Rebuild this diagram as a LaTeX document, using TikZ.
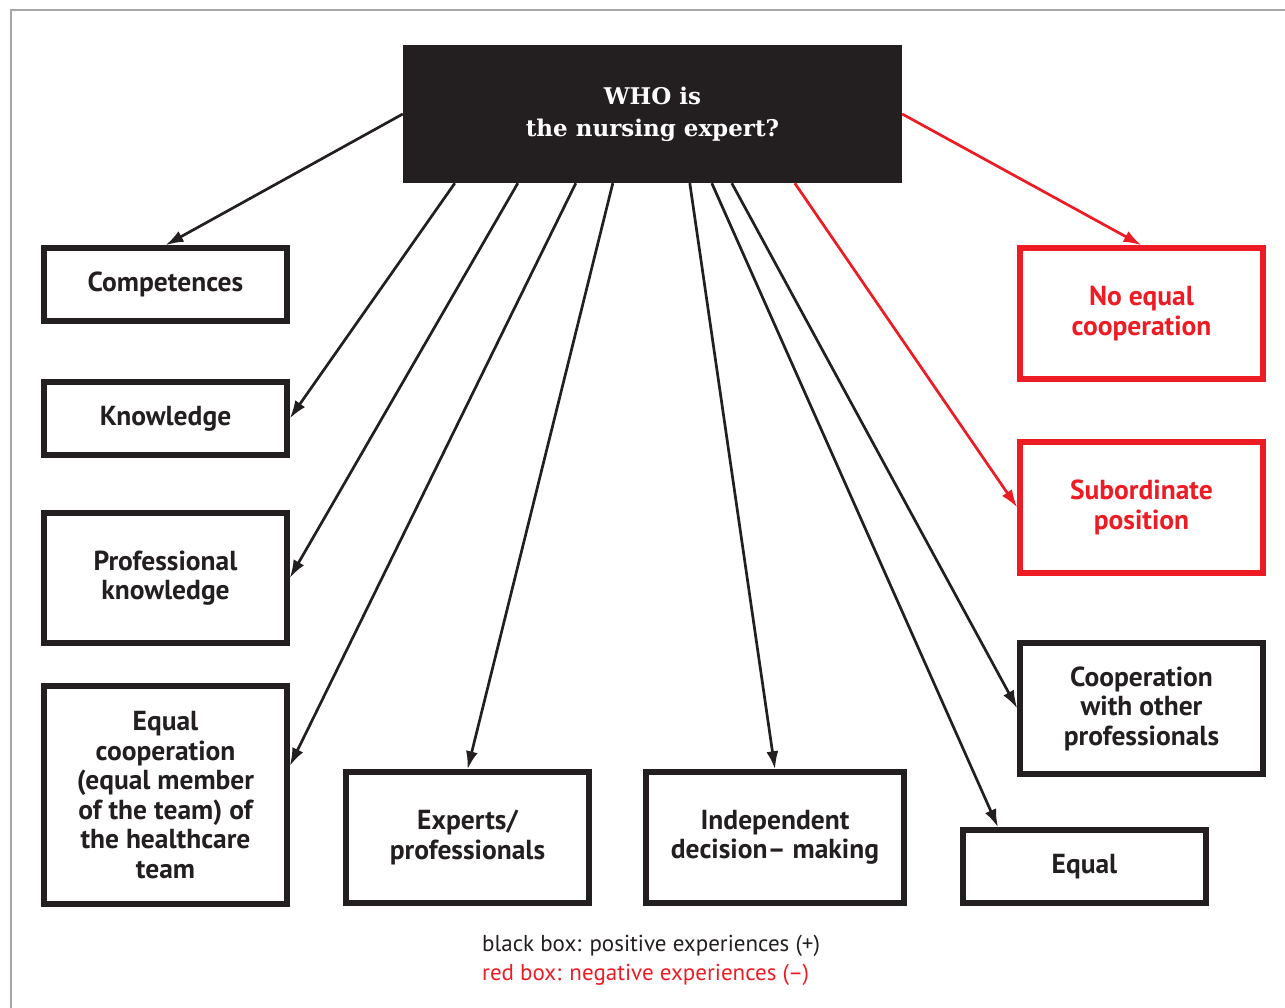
\documentclass[tikz,border=0pt]{standalone}
\usepackage{fontspec}
\setmainfont{PT Sans}
\newfontfamily\slabfont{DejaVu Serif}
\usetikzlibrary{arrows.meta}
\definecolor{boxblack}{HTML}{231F20}
\definecolor{boxred}{HTML}{ED1C24}

\begin{document}
\begin{tikzpicture}[x=1pt,y=-1pt,
  box/.style={draw=boxblack,line width=5.5pt,inner sep=0pt,outer sep=2.75pt,
    minimum width=243pt,align=center,text=boxblack,
    font=\fontsize{27.5}{29.5}\selectfont\bfseries},
  redbox/.style={box,draw=boxred,text=boxred},
  arr/.style={-{Latex[length=18pt,width=12pt]},line width=2.7pt,draw=boxblack},
  redarr/.style={arr,draw=boxred}]
\useasboundingbox (0,0) rectangle (1285,1008);
\draw[gray!70,line width=1.2pt] (11,1008)--(11,10)--(1285,10);
% question box
\node[fill=boxblack,text=white,inner sep=0pt,minimum width=499pt,minimum height=138pt,
  align=center,font=\slabfont\fontsize{23}{32}\selectfont\bfseries] (who) at (652.5,114)
  {\raisebox{-2pt}{WHO is}\\\raisebox{-2pt}{the nursing expert?}};
% left column
\node[box,minimum height=73pt] (comp) at (165.5,284.5) {Competences};
\node[box,minimum height=73pt] (know) at (165.5,418.5) {Knowledge};
\node[box,minimum height=130pt] (prof) at (165.5,578) {Professional\\knowledge};
\node[box,minimum height=218pt] (eqco) at (165.5,795)
  {Equal\\cooperation\\(equal member\\of the team) of\\the healthcare\\team};
% bottom row
\node[box,minimum height=131pt] (expt) at (467.5,837.5) {Experts/\\professionals};
\node[box,minimum width=258pt,minimum height=131pt] (indep) at (775,837.5)
  {Independent\\decision-- making};
\node[box,minimum height=73pt] (equal) at (1084.5,866.5) {Equal};
% right column
\node[redbox,minimum height=131pt] (noeq) at (1141.5,313.5) {No equal\\cooperation};
\node[redbox,minimum height=131pt] (subo) at (1141.5,507.5) {Subordinate\\position};
\node[box,minimum height=131pt] (coop) at (1141.5,708.5)
  {Cooperation\\with other\\professionals};
% arrows
\draw[arr] (who.west) -- (comp.north);
\draw[arr] ([xshift=52pt]who.south west) -- (know.east);
\draw[arr] ([xshift=115pt]who.south west) -- (prof.east);
\draw[arr] ([xshift=173pt]who.south west) -- ([yshift=29pt]eqco.east);
\draw[arr] ([xshift=210pt]who.south west) -- (expt.north);
\draw[arr] ([xshift=287pt]who.south west) -- (indep.north);
\draw[arr] ([xshift=309pt]who.south west) -- ([xshift=-86.5pt]equal.north);
\draw[arr] ([xshift=329pt]who.south west) -- (coop.west);
\draw[redarr] ([xshift=392pt]who.south west) -- (subo.west);
\draw[redarr] (who.east) -- (noeq.north);
% legend
\node[anchor=north west,align=left,inner sep=0pt,font=\fontsize{23}{29}\selectfont]
  (legend) at (482,935)
  {\textcolor{boxblack}{black box: positive experiences (+)}\\
   \textcolor{boxred}{red box: negative experiences (--)}};
\end{tikzpicture}
\end{document}
